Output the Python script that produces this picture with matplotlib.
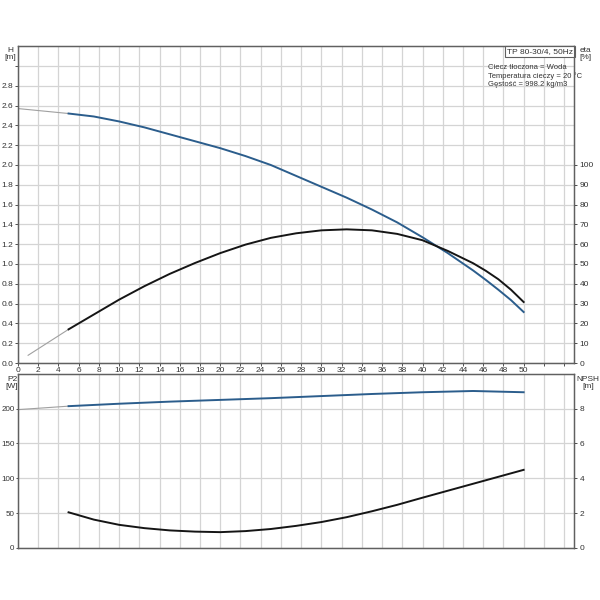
import numpy as np
import matplotlib.pyplot as plt

# pump curve data
q_main = [5, 7.5, 10, 12.5, 15, 17.5, 20, 22.5, 25, 27.5, 30, 32.5,
          35, 37.5, 40, 42.5, 45, 46.25, 47.5, 48.75, 50]
head = [2.52, 2.49, 2.44, 2.38, 2.31, 2.24, 2.17, 2.09, 2.00, 1.89, 1.78,
        1.67, 1.55, 1.42, 1.27, 1.11, 0.935, 0.84, 0.74, 0.635, 0.515]
eta = [17, 24.5, 32, 38.8, 45, 50.5, 55.5, 59.8, 63.2, 65.5, 67, 67.5,
       67, 65.2, 62.0, 56.6, 50.4, 46.6, 42.3, 37.0, 30.8]
npsh = [2.04, 1.62, 1.32, 1.13, 1.0, 0.93, 0.9, 0.96, 1.08, 1.26, 1.48,
        1.76, 2.1, 2.47, 2.88, 3.28, 3.68, 3.88, 4.08, 4.28, 4.48]

q_p2 = [5, 10, 15, 20, 25, 30, 35, 40, 45, 50]
p2 = [203.5, 207, 210, 212.5, 215, 218, 221, 223.5, 225.3, 223.5]

# thin extrapolated parts at low flow
q_head_lo = [0, 5]
head_lo = [2.57, 2.52]
q_eta_lo = [1, 5]
eta_lo = [3.9, 17]
q_p2_lo = [0, 5]
p2_lo = [198.5, 203.5]

title_box = 'TP 80-30/4, 50Hz'
info_lines = ['Ciecz tłoczona = Woda', 'Temperatura cieczy = 20 °C',
              'Gęstość = 998.2 kg/m3']

BLUE = '#2b5d8c'
BLACK = '#151515'
THIN = '#a0a0a0'
GRID = '#d4d4d4'
SPINE = '#606060'
TXT = '#333333'
FS = 6

plt.rcParams['font.family'] = ['Liberation Sans', 'DejaVu Sans']
fig = plt.figure(figsize=(6, 6), dpi=100)
ax1 = fig.add_axes([0.03, 0.395, 0.927, 0.528])
ax2 = fig.add_axes([0.03, 0.087, 0.927, 0.29])

xticks = np.arange(0, 56, 2)
for ax in (ax1, ax2):
    ax.set_xlim(0, 55)
    ax.set_xticks(xticks)
    ax.grid(True, color=GRID, linewidth=0.9)
    ax.set_axisbelow(True)
    for s in ax.spines.values():
        s.set_color(SPINE)
        s.set_linewidth(1.0)
    ax.tick_params(labelsize=FS, colors=TXT, length=2, width=0.6, pad=1.2)

# --- top: head and efficiency ---
ax1.set_ylim(0, 3.2)
yt = np.arange(0, 3.01, 0.2)
ax1.set_yticks(yt)
ax1.set_yticklabels([f'{v:.1f}' if v < 2.95 else '' for v in yt])
ax1.set_xticklabels([str(v) if v <= 50 else '' for v in xticks])
ax1.plot(q_head_lo, head_lo, color=THIN, lw=0.8)
ax1.plot(q_main, head, color=BLUE, lw=1.4)

ax1r = ax1.twinx()
ax1r.set_ylim(0, 160)
ax1r.set_yticks(np.arange(0, 101, 10))
ax1r.tick_params(labelsize=FS, colors=TXT, length=2.5, width=0.6, pad=1.5)
for s in ax1r.spines.values():
    s.set_color(SPINE)
ax1r.plot(q_eta_lo, eta_lo, color=THIN, lw=0.8)
ax1r.plot(q_main, eta, color=BLACK, lw=1.4)

# --- bottom: power and NPSH ---
ax2.set_ylim(0, 250)
ax2.set_yticks([0, 50, 100, 150, 200])
ax2.set_xticklabels([])
ax2.tick_params(axis='x', length=0)
ax2.tick_params(axis='y', labelsize=5.8, length=1.5, pad=1)
ax2.plot(q_p2_lo, p2_lo, color=THIN, lw=0.8)
ax2.plot(q_p2, p2, color=BLUE, lw=1.4)

ax2r = ax2.twinx()
ax2r.set_ylim(0, 10)
ax2r.set_yticks([0, 2, 4, 6, 8])
ax2r.tick_params(labelsize=FS, colors=TXT, length=2.5, width=0.6, pad=1.5)
for s in ax2r.spines.values():
    s.set_color(SPINE)
ax2r.plot(q_main, npsh, color=BLACK, lw=1.4)

# axis captions
fig.text(0.017, 0.91, 'H\n[m]', fontsize=FS, ha='center', va='center',
         color=TXT, linespacing=1.1)
fig.text(0.975, 0.91, 'eta\n[%]', fontsize=FS, ha='center', va='center',
         color=TXT, linespacing=1.1)
fig.text(0.02, 0.362, 'P2\n[W]', fontsize=FS, ha='center', va='center',
         color=TXT, linespacing=1.1)
fig.text(0.98, 0.362, 'NPSH\n[m]', fontsize=FS, ha='center', va='center',
         color=TXT, linespacing=1.1)
ax1.text(53, -0.13, 'Q [m3/h]', fontsize=FS, ha='center', va='top', color=TXT)

ax1.text(0.998, 0.994, title_box, transform=ax1.transAxes, fontsize=FS,
         ha='right', va='top', color=TXT,
         bbox=dict(boxstyle='square,pad=0.25', fc='white', ec=SPINE, lw=0.8))
ax1.text(0.845, 0.945, '\n'.join(info_lines), transform=ax1.transAxes,
         fontsize=FS - 0.5, ha='left', va='top', color=TXT, linespacing=1.25)

fig.savefig('out.png', dpi=100)
